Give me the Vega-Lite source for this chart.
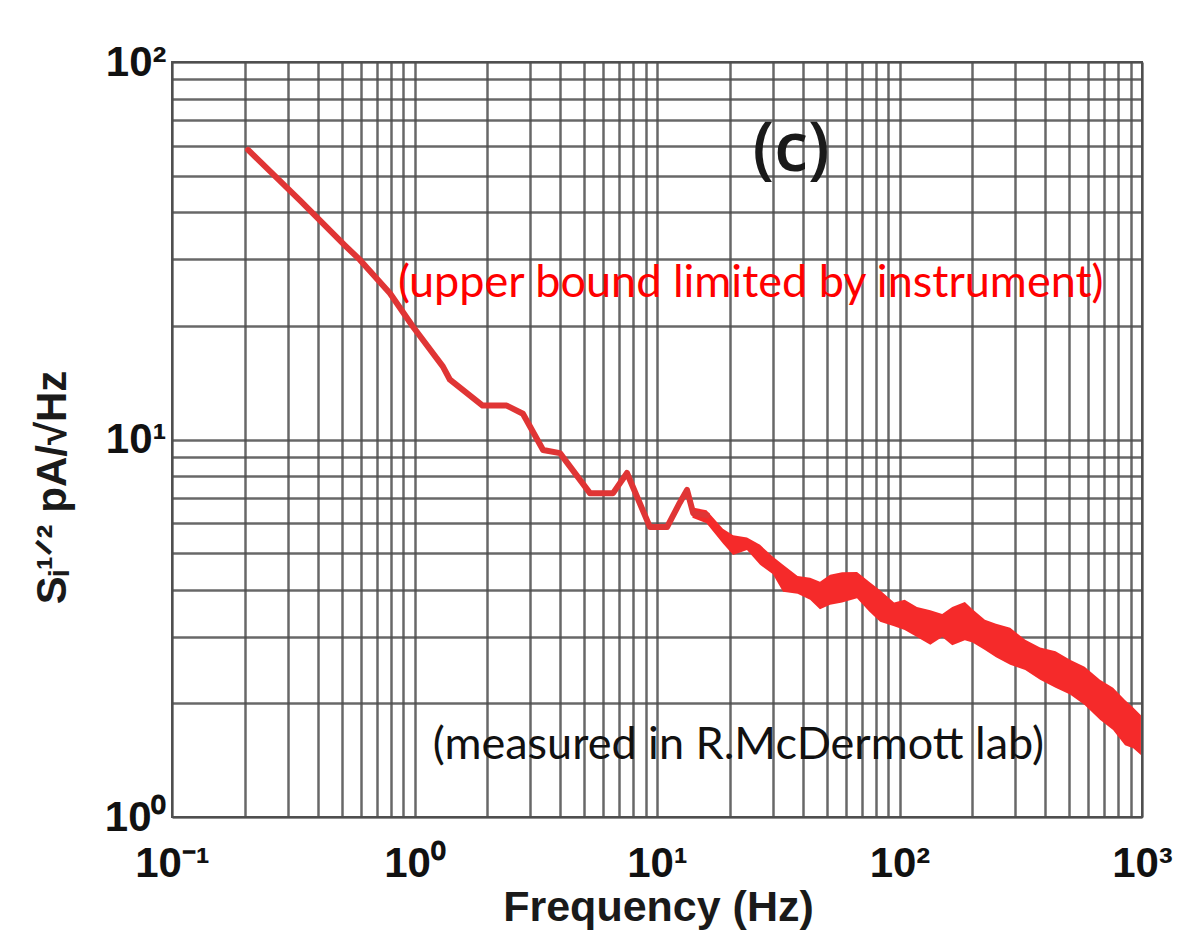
{
  "$schema": "https://vega.github.io/schema/vega-lite/v6.json",
  "width": 970,
  "height": 755,
  "autosize": "none",
  "padding": {"left": 172, "top": 62, "right": 39, "bottom": 114},
  "background": "white",
  "config": {"view": {"stroke": "#555555", "strokeWidth": 2}},
  "encoding": {
    "x": {
      "field": "f", "type": "quantitative",
      "scale": {"type": "log", "domain": [0.1, 1000], "nice": false},
      "axis": {
        "title": "Frequency (Hz)",
        "values": [0.1,0.2,0.3,0.4,0.5,0.6,0.7,0.8,0.9,1,2,3,4,5,6,7,8,9,10,20,30,40,50,60,70,80,90,100,200,300,400,500,600,700,800,900,1000],
        "labelExpr": "datum.value==0.1?'10⁻¹':datum.value==1?'10⁰':datum.value==10?'10¹':datum.value==100?'10²':datum.value==1000?'10³':''",
        "ticks": false, "domain": false,
        "grid": true, "gridColor": "#4d4d4d", "gridWidth": 2.5, "gridOpacity": 0.85,
        "labelFont": "Liberation Sans", "labelFontWeight": "bold", "labelFontSize": 42, "labelColor": "#111111",
        "labelPadding": 26, "labelBaseline": "top", "labelOverlap": false, "labelFlush": false, "labelBound": false,
        "titleFont": "Liberation Sans", "titleFontWeight": "bold", "titleFontSize": 43, "titleColor": "#1a1a1a",
        "titleX": 486, "titleY": 90, "titleBaseline": "middle", "titleAlign": "center"
      }
    },
    "y": {
      "field": "s", "type": "quantitative",
      "scale": {"type": "log", "domain": [1, 100], "nice": false},
      "axis": {
        "title": "Sᵢ¹ᐟ²  pA/√Hz",
        "values": [1,2,3,4,5,6,7,8,9,10,20,30,40,50,60,70,80,90,100],
        "labelExpr": "datum.value==1?'10⁰':datum.value==10?'10¹':datum.value==100?'10²':''",
        "ticks": false, "domain": false,
        "grid": true, "gridColor": "#4d4d4d", "gridWidth": 2.5, "gridOpacity": 0.85,
        "labelFont": "Liberation Sans", "labelFontWeight": "bold", "labelFontSize": 42, "labelColor": "#111111",
        "labelPadding": 6, "labelBaseline": "middle", "labelOverlap": false, "labelFlush": false, "labelBound": false,
        "titleFont": "Liberation Sans", "titleFontWeight": "bold", "titleFontSize": 42, "titleColor": "#1a1a1a",
        "titleX": -120, "titleY": 425, "titleAngle": -90, "titleBaseline": "middle", "titleAlign": "center"
      }
    }
  },
  "layer": [
    {
      "data": {"values": [
        {"f": 14, "s": 6.6, "s2": 6.2},
        {"f": 16, "s": 6.5, "s2": 6.0},
        {"f": 18.7, "s": 5.8, "s2": 5.3},
        {"f": 20.6, "s": 5.58, "s2": 4.94},
        {"f": 23.5, "s": 5.5, "s2": 5.1},
        {"f": 26.6, "s": 5.26, "s2": 4.66},
        {"f": 30, "s": 4.9, "s2": 4.4},
        {"f": 33.1, "s": 4.66, "s2": 3.95},
        {"f": 38, "s": 4.35, "s2": 3.9},
        {"f": 42.8, "s": 4.3, "s2": 3.76},
        {"f": 47, "s": 4.2, "s2": 3.55},
        {"f": 51.7, "s": 4.38, "s2": 3.65},
        {"f": 58, "s": 4.45, "s2": 3.7},
        {"f": 66.8, "s": 4.46, "s2": 3.8},
        {"f": 75, "s": 4.2, "s2": 3.5},
        {"f": 83.2, "s": 3.99, "s2": 3.29},
        {"f": 95, "s": 3.7, "s2": 3.2},
        {"f": 105, "s": 3.76, "s2": 3.13},
        {"f": 118, "s": 3.6, "s2": 3.0},
        {"f": 134, "s": 3.53, "s2": 2.86},
        {"f": 150, "s": 3.45, "s2": 3.0},
        {"f": 165, "s": 3.6, "s2": 2.85},
        {"f": 186, "s": 3.71, "s2": 2.94},
        {"f": 200, "s": 3.55, "s2": 2.9},
        {"f": 225, "s": 3.33, "s2": 2.77},
        {"f": 250, "s": 3.25, "s2": 2.65},
        {"f": 286, "s": 3.17, "s2": 2.53},
        {"f": 330, "s": 2.95, "s2": 2.45},
        {"f": 380, "s": 2.81, "s2": 2.31},
        {"f": 440, "s": 2.75, "s2": 2.2},
        {"f": 505, "s": 2.61, "s2": 2.11},
        {"f": 580, "s": 2.5, "s2": 1.98},
        {"f": 671, "s": 2.31, "s2": 1.81},
        {"f": 760, "s": 2.2, "s2": 1.7},
        {"f": 851, "s": 2.04, "s2": 1.55},
        {"f": 920, "s": 1.95, "s2": 1.52},
        {"f": 990, "s": 1.86, "s2": 1.46}
      ]},
      "mark": {"type": "area", "color": "#f52a2a", "opacity": 1, "interpolate": "linear"},
      "encoding": {"y2": {"field": "s2"}}
    },
    {
      "data": {"values": [
        {"f": 0.206, "s": 58.5},
        {"f": 0.337, "s": 43},
        {"f": 0.516, "s": 32.7},
        {"f": 0.596, "s": 29.9},
        {"f": 0.792, "s": 24.4},
        {"f": 0.986, "s": 19.9},
        {"f": 1.31, "s": 15.6},
        {"f": 1.4, "s": 14.4},
        {"f": 1.91, "s": 12.3},
        {"f": 2.4, "s": 12.3},
        {"f": 2.8, "s": 11.7},
        {"f": 3.39, "s": 9.38},
        {"f": 3.98, "s": 9.2},
        {"f": 5.29, "s": 7.21},
        {"f": 6.59, "s": 7.21},
        {"f": 7.52, "s": 8.15},
        {"f": 9.35, "s": 5.86},
        {"f": 11.0, "s": 5.86},
        {"f": 12.4, "s": 6.79},
        {"f": 13.3, "s": 7.35},
        {"f": 14.1, "s": 6.38},
        {"f": 16.1, "s": 6.3}
      ]},
      "mark": {"type": "line", "color": "#e03535", "strokeWidth": 6, "strokeJoin": "round", "strokeCap": "round"}
    },
    {
      "data": {"values": [{"f": 35.7, "s": 58, "label": "(c)"}]},
      "mark": {"type": "text", "font": "Open Sans", "fontSize": 68, "fontWeight": 600, "color": "#1a1a1a", "align": "center", "baseline": "middle"},
      "encoding": {"text": {"field": "label"}}
    },
    {
      "data": {"values": [{"f": 0.855, "s": 26.0, "label": "(upper bound limited by instrument)"}]},
      "mark": {"type": "text", "font": "Lato", "fontSize": 45, "color": "#ff0000", "align": "left", "baseline": "middle"},
      "encoding": {"text": {"field": "label"}}
    },
    {
      "data": {"values": [{"f": 1.19, "s": 1.55, "label": "(measured in R.McDermott lab)"}]},
      "mark": {"type": "text", "font": "Lato", "fontSize": 45, "color": "#111111", "align": "left", "baseline": "middle"},
      "encoding": {"text": {"field": "label"}}
    }
  ]
}
